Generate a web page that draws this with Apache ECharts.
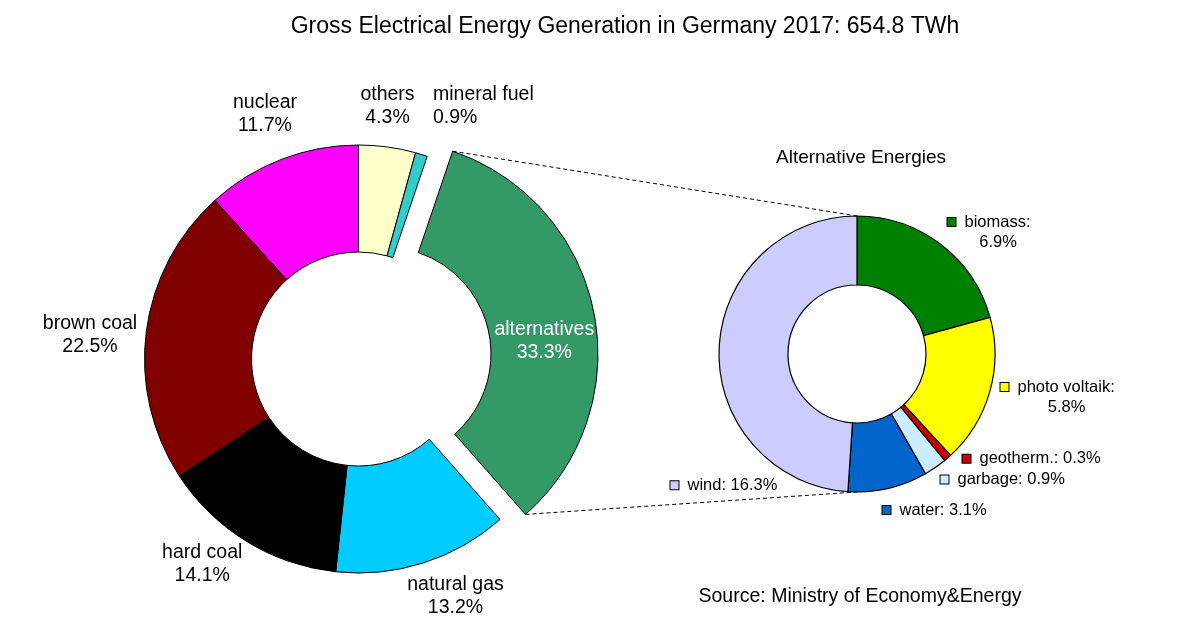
<!DOCTYPE html>
<html>
<head>
<meta charset="utf-8">
<script src="https://cdn.jsdelivr.net/npm/echarts@6/dist/echarts.min.js"></script>
<style>
  html, body { margin: 0; padding: 0; background: #fff; }
  #main { width: 1200px; height: 631px; }
</style>
</head>
<body>
<div id="main"></div>
<script>
// shares of gross generation 2017 in %
var mainNames = ['others', 'mineral fuel', 'alternatives', 'natural gas', 'hard coal', 'brown coal', 'nuclear'];
var mainValues = [4.3, 0.9, 33.3, 13.2, 14.1, 22.5, 11.7];
// breakdown of the alternatives slice
var altNames = ['biomass', 'photo voltaik', 'geotherm.', 'garbage', 'water', 'wind'];
var altValues = [6.9, 5.8, 0.3, 0.9, 3.1, 16.3];

var mainColors = ['#FFFFCC', '#33CCCC', '#339966', '#00CCFF', '#000000', '#800000', '#FF00FF'];
var altColors = ['#008000', '#FFFF00', '#CC0000', '#CCECFF', '#0066CC', '#CCCCFF'];

var font = "'Liberation Sans', Arial, sans-serif";
var bigPie = { cx: 358.5, cy: 359, r0: 107, r: 214, offset: 26 };
var smallPie = { cx: 857, cy: 354, r0: 69, r: 138 };

// where the labels sit (x, middle y, align)
var mainLabelPos = [
  [387.5, 106.5, 'center'], [433, 106.5, 'left'], [544.3, 340.7, 'center'],
  [455.5, 596, 'center'], [202.2, 564.5, 'center'], [90, 335, 'center'], [265, 113.8, 'center']
];
var altLabelPos = [[947, 232], [1000, 397], [962, 458.7], [940, 479.5], [882, 510], [670, 485.3]];
var altTwoLine = [true, true, false, false, false, false];

var myChart = echarts.init(document.getElementById('main'));

// the alternatives slice is pulled out along its middle angle
function sum(arr) { return arr.reduce(function (a, b) { return a + b; }, 0); }
var total = sum(mainValues);
var altIdx = mainNames.indexOf('alternatives');
var before = sum(mainValues.slice(0, altIdx));
var a1 = before / total * 2 * Math.PI;
var a2 = (before + mainValues[altIdx]) / total * 2 * Math.PI;
var am = (a1 + a2) / 2;
var offX = bigPie.offset * Math.sin(am), offY = -bigPie.offset * Math.cos(am);
function corner(a) {
  return [
    bigPie.cx + bigPie.r * Math.sin(a) + offX,
    bigPie.cy - bigPie.r * Math.cos(a) + offY
  ];
}
var c1 = corner(a1), c2 = corner(a2);

var rich = {
  sp: { width: 9, height: 9, verticalAlign: 'middle' },
  t: { fontSize: 16.5, fontFamily: font, color: '#000', padding: [0, 0, 0, 9], lineHeight: 20, verticalAlign: 'middle' }
};
altColors.forEach(function (c, i) {
  rich['sq' + i] = { width: 8, height: 8, backgroundColor: c, borderColor: '#000', borderWidth: 1, verticalAlign: 'middle' };
});

var hidden = { color: 'transparent', borderWidth: 0 };

function mainPie(center, pulled) {
  return {
    type: 'pie',
    center: center,
    radius: [bigPie.r0, bigPie.r],
    startAngle: 90,
    clockwise: true,
    avoidLabelOverlap: false,
    silent: true,
    itemStyle: { borderColor: '#000', borderWidth: 1 },
    label: {
      show: true,
      position: 'outside',
      fontFamily: font,
      fontSize: 19.5,
      lineHeight: 23,
      color: pulled ? '#fff' : '#000',
      formatter: function (p) { return p.name + '\n' + p.value.toFixed(1) + '%'; }
    },
    labelLine: { show: false },
    labelLayout: function (p) {
      var q = mainLabelPos[p.dataIndex];
      return { x: q[0], y: q[1], align: q[2], verticalAlign: 'middle' };
    },
    emphasis: { disabled: true },
    data: mainNames.map(function (n, i) {
      var d = { name: n, value: mainValues[i], itemStyle: { color: mainColors[i] } };
      if ((i === altIdx) !== pulled) {
        d.itemStyle = hidden;
        d.label = { show: false };
      }
      return d;
    })
  };
}

var option = {
  animation: false,
  backgroundColor: '#fff',
  graphic: [
    { type: 'text', x: 625, y: 26.5, style: { text: 'Gross Electrical Energy Generation in Germany 2017: 654.8 TWh', font: '23px ' + font, fill: '#000', textAlign: 'center', textVerticalAlign: 'middle' } },
    { type: 'text', x: 861, y: 157.6, style: { text: 'Alternative Energies', font: '19px ' + font, fill: '#000', textAlign: 'center', textVerticalAlign: 'middle' } },
    { type: 'text', x: 860, y: 597, style: { text: 'Source: Ministry of Economy&Energy', font: '19.5px ' + font, fill: '#000', textAlign: 'center', textVerticalAlign: 'middle' } },
    { type: 'line', shape: { x1: c1[0], y1: c1[1], x2: smallPie.cx, y2: smallPie.cy - smallPie.r }, style: { stroke: '#000', lineWidth: 1, lineDash: [4, 3] } },
    { type: 'line', shape: { x1: c2[0], y1: c2[1], x2: smallPie.cx, y2: smallPie.cy + smallPie.r }, style: { stroke: '#000', lineWidth: 1, lineDash: [4, 3] } }
  ],
  series: [
    mainPie([bigPie.cx, bigPie.cy], false),
    mainPie([bigPie.cx + offX, bigPie.cy + offY], true),
    {
      type: 'pie',
      center: [smallPie.cx, smallPie.cy],
      radius: [smallPie.r0, smallPie.r],
      startAngle: 90,
      clockwise: true,
      avoidLabelOverlap: false,
      silent: true,
      itemStyle: { borderColor: '#000', borderWidth: 1.2 },
      label: {
        show: true,
        position: 'outside',
        rich: rich,
        formatter: function (p) {
          var i = p.dataIndex;
          var v = p.value.toFixed(1) + '%';
          var s = '{sq' + i + '|}{t|' + p.name + ':';
          return altTwoLine[i] ? s + '}\n{sp|}{t|' + v + '}' : s + ' ' + v + '}';
        }
      },
      labelLine: { show: false },
      labelLayout: function (p) {
        var q = altLabelPos[p.dataIndex];
        return { x: q[0] + p.labelRect.width / 2, y: q[1], align: 'center', verticalAlign: 'middle' };
      },
      emphasis: { disabled: true },
      data: altNames.map(function (n, i) {
        return { name: n, value: altValues[i], itemStyle: { color: altColors[i] } };
      })
    }
  ]
};
myChart.setOption(option);
</script>
</body>
</html>
